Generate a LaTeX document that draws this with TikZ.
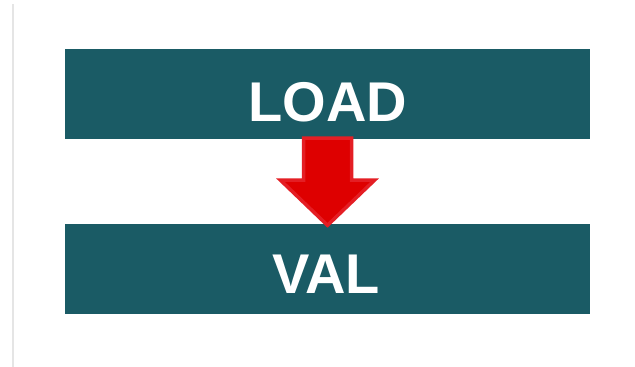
\documentclass[tikz,border=0pt]{standalone}
\usepackage{fontspec}
\setmainfont{Liberation Sans}
\usetikzlibrary{calc}
\definecolor{tealbox}{RGB}{26,91,101}
\definecolor{arrowfill}{RGB}{222,0,0}
\definecolor{arrowedge}{RGB}{228,30,36}
\tikzset{
  stagebox/.style={fill=tealbox, minimum width=525pt, minimum height=90pt, inner sep=0pt},
  stagetext/.style={text=white, font=\fontsize{56}{56}\selectfont\bfseries, inner sep=0pt, text height=41pt, text depth=0pt},
  blockarrow/.style={fill=arrowfill, draw=arrowedge, line width=3.5pt, line join=miter}
}
\begin{document}
\begin{tikzpicture}[x=1pt, y=-1pt]
\useasboundingbox[fill=white] (0,0) rectangle (635,367);
\draw[gray!20, line width=2pt] (13,4) -- (13,367);
\node[stagebox] (load) at (327.5,94) {};
\node[stagebox] (val) at (327.5,269) {};
\node[stagetext] (loadtext) at (328,101) {LOAD};
\node[stagetext] (valtext) at (326,272.5) {VAL};
\draw[blockarrow] ($(load.south)+(-24,-1)$) -- ($(load.south)+(24,-1)$) -- ($(load.south)+(24,41)$)
  -- ($(load.south)+(47,41)$) -- ($(val.north)+(0,1.5)$) -- ($(load.south)+(-47,41)$)
  -- ($(load.south)+(-24,41)$) -- cycle;
\end{tikzpicture}
\end{document}
